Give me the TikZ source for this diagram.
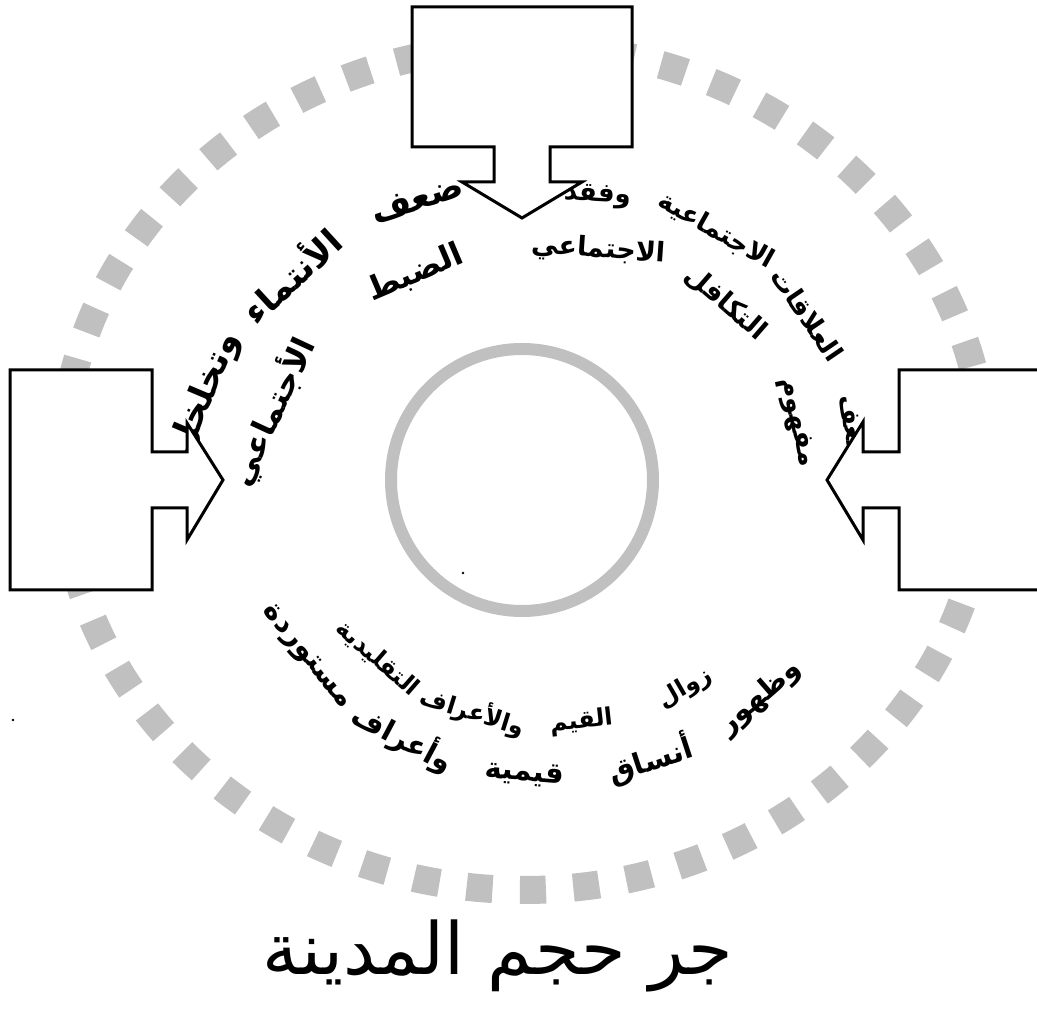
\documentclass[tikz,border=0pt]{standalone}
\usepackage{fontspec}
\newfontfamily\arabicfont[Script=Arabic]{DejaVu Sans}
\newfontfamily\arabicheavy[Script=Arabic]{DejaVu Sans Bold}
\TeXXeTstate=1
\definecolor{ringgray}{HTML}{C0C0C0}
\newcommand\arcfont[1]{\arabicheavy\fontsize{#1}{#1}\selectfont}
\newlength\wordwd
\newlength\totwd
\newcount\wordcount
% words of one line spread along an arc:
% #1 name, #2 centre, #3 radius, #4 angle of right end, #5 angle of left end, #6 size, #7 words
\newcommand\arctext[7]{%
  \global\totwd=0pt \global\wordcount=0
  \foreach \w in {#7}{\settowidth\wordwd{\arcfont{#6}\beginR\w\endR}%
    \global\advance\totwd by\wordwd \global\advance\wordcount by1}%
  \pgfmathsetmacro\gap{(abs(#5-#4)/57.2958*#3-\totwd)/(\wordcount-1)}%
  \pgfmathsetmacro\arcsgn{sign(#5-#4)}%
  \xdef\curang{#4}%
  \foreach \w [count=\i] in {#7}{%
    \settowidth\wordwd{\arcfont{#6}\beginR\w\endR}%
    \pgfmathsetmacro\midang{\curang+\arcsgn*(\wordwd/2)/#3*57.2958}%
    \pgfmathsetmacro\wrot{\midang-\arcsgn*90}%
    \node[arcword,font=\arcfont{#6},rotate=\wrot] (#1\i) at ([shift={(\midang:#3)}]#2) {\beginR\w\endR};
    \pgfmathsetmacro\nextang{\curang+\arcsgn*(\wordwd+\gap)/#3*57.2958}%
    \xdef\curang{\nextang}}%
}

\begin{document}
\begin{tikzpicture}[x=1pt,y=1pt,
  callout/.style={draw=black,line width=3pt,fill=white,line join=miter},
  arcword/.style={inner sep=0pt},
  ring/.style={draw=ringgray,line width=28pt,dash pattern=on 26pt off 27.44pt,dash phase=4pt},
  hub/.style={draw=ringgray,line width=12pt},
  speck/.style={fill=black,radius=1.3pt}]
\clip (0,0) rectangle (1037,1033);
\fill[white] (0,0) rectangle (1037,1033);
% rings
\draw[ring] (524,565) ellipse [x radius=462,y radius=422];
\draw[hub] (522,553) circle [radius=131];
% centres of the text arcs
\coordinate (tl) at (524,504);
\coordinate (tr) at (583,565);
\coordinate (bt) at (552,575);
% top left
\arctext{tla}{tl}{346}{108}{157}{35}{ضعف,الأنتماء,وتخلخل}
\arctext{tlb}{tl}{278}{113}{155}{32}{الضبط,الأجتماعي}
% top right
\arctext{tra}{tr}{272}{8}{87}{26}{ضعف,العلاقات,الاجتماعية,وفقد}
\arctext{trb}{tr}{218}{12}{86}{27}{مفهوم,التكافل,الاجتماعي}
% bottom
\arctext{bta}{bt}{266}{-60}{-131}{24}{زوال,القيم,والأعراف,التقليدية}
\arctext{btb}{bt}{317}{-49}{-141}{29}{وظهور,أنساق,قيمية,وأعراف,مستوردة}
% callouts
\draw[callout] (412,1026) -- (632,1026) -- (632,886) -- (550,886) -- (550,851) -- (582,851)
  -- (522,815) -- (462,851) -- (494,851) -- (494,886) -- (412,886) -- cycle;
\draw[callout] (10,663) -- (152,663) -- (152,581) -- (187,581) -- (187,610) -- (223,553)
  -- (187,493) -- (187,525) -- (152,525) -- (152,443) -- (10,443) -- cycle;
\draw[callout] (1045,663) -- (899,663) -- (899,581) -- (863,581) -- (863,611) -- (827,553)
  -- (863,493) -- (863,525) -- (899,525) -- (899,443) -- (1045,443) -- cycle;
% title
\node[anchor=base,inner sep=0pt,font=\arabicfont\fontsize{72}{80}\selectfont] (city) at (498,58) {\beginR جر حجم المدينة\endR};
\fill[speck] (463,460) circle;
\fill[speck] (799,356) circle;
\fill[speck] (13,313) circle;
\end{tikzpicture}
\end{document}
